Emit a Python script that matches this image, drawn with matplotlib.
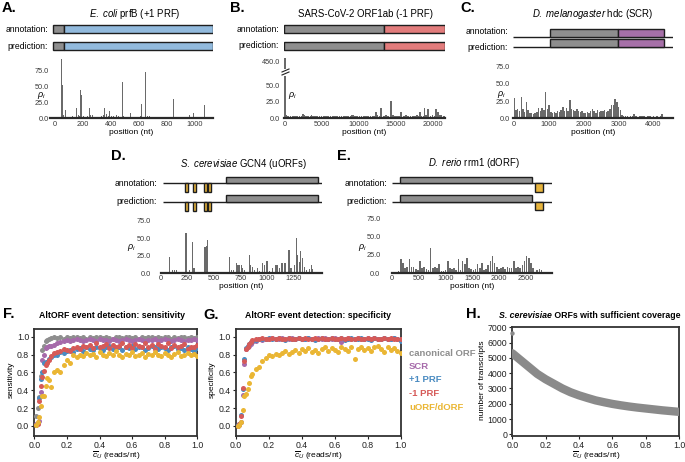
import numpy as np
import matplotlib
matplotlib.use('Agg')
import matplotlib.pyplot as plt
from matplotlib.patches import Rectangle

plt.rcParams['font.family'] = ['Liberation Sans', 'DejaVu Sans']
plt.rcParams['mathtext.fontset'] = 'custom'
plt.rcParams['mathtext.rm'] = 'Liberation Sans'
plt.rcParams['mathtext.it'] = 'Liberation Sans:italic'
plt.rcParams['mathtext.bf'] = 'Liberation Sans:bold'

# ---------------- data ----------------
# A: E. coli prfB coverage (position nt, rho)
a_profile = [(30,1),(45,3),(49,94),(56,53),(62,5),(73,13),(90,2),(110,1),(125,3),(140,2),
             (150,4),(155,17),(165,5),(175,3),(183,44),(190,37),(200,3),(215,2),(230,4),(245,17),
             (255,6),(270,5),(290,1),(310,1),(333,4),(345,5),(357,16),(368,7),(380,4),(391,11),
             (405,3),(415,4),(428,2),(439,6),(455,3),(468,2),(479,58),(490,3),(510,1),(537,8),
             (560,1),(580,2),(600,2),(610,3),(620,23),(635,2),(650,74),(662,4),(675,4),(700,1),
             (720,2),(745,2),(770,2),(790,1),(810,1),(830,2),(848,31),(870,1),(900,1),(930,2),
             (950,1),(960,6),(975,2),(990,8),(1010,1),(1030,2),(1050,1),(1068,21),(1085,1)]
a_orfs = [(-12, 62, 'canonical'), (62, 1127, '+1 PRF')]

# B: SARS-CoV-2 ORF1ab
b_peaks = [(0,455),(2400,7),(3600,5),(9000,5),(12250,9),(12930,15),(14280,26),(15630,9),
           (18240,10),(18830,15),(19370,14),(20360,14),(20720,9),(21040,5)]
b_base = [5,4,3,3,4,3,3,4,5,4,3,3,
          4,3,4,3,3,4,3,3,4,3,3,4,
          3,3,3,4,3,4,5,3,3,4,3,3,
          3,4,3,3,4,5,4,3,4,5,3,4,
          5,4,3,4,3,4,5,4,3,4,4,5,
          4,3,4,5,4,3,5,4,4,5,4,3]
b_orfs = [(-95, 13400, 'canonical'), (13400, 21600, '-1 PRF')]

# C: D. melanogaster hdc (50-nt bins)
c_bins = [29,12,14,10,31,14,9,23,12,8,
          7,6,8,9,15,10,15,12,38,14,
          20,9,8,9,8,10,9,12,17,11,
          15,10,26,14,12,10,13,11,9,10,
          8,7,9,8,10,14,11,8,12,9,
          11,10,12,9,11,13,19,20,28,24,
          17,12,5,3,4,3,2,3,4,6,
          3,2,3,4,3,3,2,3,3,2,
          3,2,3,2,4,6,2,1,0]
c_orfs = [(1025, 2970, 'canonical'), (2970, 4310, 'SCR')]

# D: S. cerevisiae GCN4
d_profile = [(83,23),(115,5),(130,5),(150,5),(175,2),(200,2),(240,57),(270,5),(302,45),(315,7),
             (350,2),(390,2),(418,38),(428,39),(443,48),(470,2),(530,2),(565,2),(646,23),(665,5),
             (685,5),(712,14),(727,11),(742,11),(758,11),(773,7),(790,4),(834,26),(846,12),(865,8),
             (885,4),(910,7),(930,3),(959,14),(975,11),(1000,17),(1025,3),(1050,7),(1085,11),(1100,11),
             (1115,7),(1140,14),(1168,14),(1207,33),(1225,7),(1255,11),(1278,51),(1287,26),(1302,16),
             (1318,31),(1333,22),(1349,9),(1370,4),(1400,6),(1415,11),(1430,6),(1460,1)]
d_orfs = [(615, 1482, 'canonical'), (230, 256, 'uORF/dORF'), (308, 333, 'uORF/dORF'),
          (411, 433, 'uORF/dORF'), (449, 475, 'uORF/dORF')]

# E: D. rerio rrm1 (40-nt bins)
e_bins = [2,1,1,3,20,14,7,9,20,9,
          8,6,4,17,7,8,5,4,34,7,
          8,7,12,3,3,4,17,7,6,7,
          4,20,4,16,12,21,7,5,4,6,
          12,7,14,4,5,11,16,24,14,9,
          6,7,8,6,8,7,7,17,7,8,
          7,11,16,23,21,14,7,2,4,6,
          4,1,1]
e_orfs = [(150, 2630, 'canonical'), (2680, 2835, 'uORF/dORF')]

# F / G: detection vs coverage threshold (values in %)
fg_x = np.r_[np.arange(1, 11) / 100, np.arange(12, 101, 2) / 100]
f_canonical = [11,20,32,56,85,90,95,96,98,99] + \
    [100,99,100,98,100,99,100,100,99,100,98,100,99,100,100,
     99,100,99,98,100,100,99,100,100,99,100,98,100,99,100,
     100,99,100,99,100,100,98,100,99,100,100,99,100,99,100]
f_scr = [2,3,5,38,74,80,87,88,90,90] + \
    [91,93,94,95,96,95,96,97,96,95,96,97,96,95,97,
     96,96,95,97,96,95,96,97,96,95,96,97,96,95,96,
     96,97,95,96,97,96,95,96,97,96,95,96,96,97,96]
f_prf1 = [1,3,31,53,60,70,72,72,75,77] + \
    [79,80,83,82,84,85,83,86,87,84,88,86,85,89,87,
     85,88,90,86,87,89,85,88,87,90,86,88,89,85,87,
     90,88,86,89,87,85,88,90,86,87,85,89,86,84,87]
f_prfm1 = [1,2,28,45,55,62,68,70,74,78] + \
    [82,83,84,86,85,84,87,88,86,90,89,91,87,93,88,
     90,92,87,91,89,90,93,88,91,87,92,90,89,93,88,
     91,86,92,90,89,93,87,91,88,90,92,86,89,88,91]
f_uorf = [1,4,10,22,34,34,45,54,52,44] + \
    [61,63,60,68,74,70,79,77,80,78,82,79,81,77,83,
     80,78,82,79,84,80,77,81,79,83,78,80,82,77,81,
     79,83,80,78,82,79,77,81,83,78,80,82,79,81,78]

g_scr = [1,1,4,35,69,86,88,90,92,94] + \
    [95,97,96,98,97,99,98,97,99,98,97,99,98,99,97,
     98,99,98,97,99,98,99,97,98,99,98,94,98,99,97,
     98,99,98,97,99,98,99,97,98,99,98,97,99,98,98]
g_prf1 = [1,2,12,41,75,87,90,92,94,95] + \
    [96,97,98,97,99,98,97,99,98,96,99,98,97,99,98,
     97,99,98,96,98,99,97,98,99,97,98,99,96,98,99,
     97,98,99,97,98,96,99,98,97,99,98,97,99,98,95]
g_prfm1 = [0,2,11,43,73,86,89,92,94,96] + \
    [97,98,99,98,97,99,98,99,97,98,99,98,97,99,98,
     99,98,97,99,98,99,97,98,99,98,97,99,98,99,97,
     98,99,98,97,99,98,99,98,97,99,98,99,98,97,98]
g_uorf = [0,1,4,18,33,36,41,48,56,58] + \
    [64,66,73,76,80,78,81,80,82,84,81,83,85,82,86,
     84,87,83,85,82,86,88,84,87,85,83,89,86,84,88,
     75,86,89,85,87,84,88,90,86,83,88,85,87,84,82]

# H: number of transcripts with sufficient coverage
h_x = np.arange(0, 21) / 20
h_y = [5300,4850,4400,3950,3600,3300,3000,2750,2550,2380,2220,
       2100,1990,1900,1820,1750,1690,1630,1570,1520,1470]
h_out_x = [0.0]
h_out_y = [6600]

legend_labels = ['canonical ORF', 'SCR', '+1 PRF', '-1 PRF', 'uORF/dORF']

# ---------------- style ----------------
COL = {'canonical': '#8e8e8e', 'SCR': '#a66aaa', '+1 PRF': '#4a8bc1',
       '-1 PRF': '#d65a58', 'uORF/dORF': '#eab634'}
BOXCOL = {'canonical': '#8e8e8e', 'SCR': '#a670a8', '+1 PRF': '#92badd',
          '-1 PRF': '#e27c7c', 'uORF/dORF': '#e7b43c'}
BAR = '#6a6a6a'
EDGE = '#1e1e1e'
TITLE_FS = 6.9
LAB_FS = 6.2

W, H = 685, 462
fig = plt.figure(figsize=(W / 100, H / 100), dpi=100)


def px_axes(x0, y0, x1, y1):
    return fig.add_axes([x0 / W, 1 - y1 / H, (x1 - x0) / W, (y1 - y0) / H])


def ftext(x, y, s, **kw):
    kw.setdefault('va', 'center')
    return fig.text(x / W, 1 - y / H, s, **kw)


def diagram(rect, xlim, orfs, rows, line_span=None):
    x0, y0, x1, y1 = rect
    ax = px_axes(*rect)
    ax.set_xlim(*xlim)
    ax.set_ylim(y1, y0)
    ax.axis('off')
    for yline, up, down in rows:
        if line_span is not None:
            ax.plot(line_span, [yline, yline], color=EDGE, lw=1.0,
                    solid_capstyle='butt', zorder=1)
        for s, e, kind in orfs:
            yt, yb = down if kind == 'uORF/dORF' and line_span is not None else up
            ax.add_patch(Rectangle((s, yt), e - s, yb - yt, fc=BOXCOL[kind],
                                   ec=EDGE, lw=1.0, zorder=2))
    return ax


def coverage(rect, pos, val, width, xlim, ylim, xticks, yticks, ypad, xpad=2.0):
    ax = px_axes(*rect)
    ax.bar(pos, val, width=width, color=BAR, linewidth=0)
    ax.set_xlim(*xlim)
    ax.set_ylim(*ylim)
    for s in ['left', 'right', 'top']:
        ax.spines[s].set_visible(False)
    ax.spines['bottom'].set_color('#2a2a2a')
    ax.spines['bottom'].set_linewidth(1.6)
    ax.set_xticks(xticks)
    ax.set_yticks(yticks)
    ax.set_yticklabels([f'{v:.1f}' for v in yticks])
    ax.tick_params(axis='both', length=0, labelsize=5.3, colors='#3a3a3a')
    ax.tick_params(axis='y', pad=ypad)
    ax.tick_params(axis='x', pad=xpad)
    return ax


RHO = r'$\rho_i$'
RHO_FS = 6.5

# ---------------- Panel A ----------------
a_xlim = (-36, 1129)
diagram((50, 20, 213, 55), a_xlim, a_orfs, [(None, (24.5, 32.5), None), (None, (42, 50), None)])
a_pos, a_val = zip(*a_profile)
coverage((50, 57, 213, 118.3), a_pos, a_val, 7, a_xlim, (0, 97),
         [0, 200, 400, 600, 800, 1000], [0, 25, 50, 75], ypad=1)
ftext(2, 8, 'A.', fontsize=10.5, fontweight='bold', ha='left')
ftext(135, 14, r'$\mathit{E.\ coli}$ prfB (+1 PRF)', fontsize=TITLE_FS, ha='center')
ftext(48, 29, 'annotation:', fontsize=LAB_FS, ha='right')
ftext(48, 46.5, 'prediction:', fontsize=LAB_FS, ha='right')
ftext(41, 95.5, RHO, fontsize=RHO_FS, ha='center')
ftext(131, 133, 'position (nt)', fontsize=6, ha='center')

# ---------------- Panel B ----------------
b_xlim = (-135, 21620)
diagram((284, 20, 445, 55), b_xlim, b_orfs, [(None, (25, 33), None), (None, (42, 50), None)])
b_pos = [p for p, v in b_peaks] + list(150 + 300 * np.arange(len(b_base)))
b_val = [v for p, v in b_peaks] + list(b_base)
axb = coverage((284, 76, 445, 118.3), b_pos, b_val, 230, b_xlim, (0, 63.6),
               [0, 5000, 10000, 15000, 20000], [0, 25, 50], ypad=3)
axbt = px_axes(284, 57, 445, 69)
axbt.bar(b_pos, b_val, width=230, color=BAR, linewidth=0)
axbt.set_xlim(*b_xlim)
axbt.set_ylim(440, 456)
for s in ['left', 'right', 'top', 'bottom']:
    axbt.spines[s].set_visible(False)
axbt.set_xticks([])
axbt.set_yticks([450])
axbt.set_yticklabels(['450.0'])
axbt.tick_params(axis='y', length=0, labelsize=5.3, colors='#3a3a3a', pad=3)
for yy in (70.5, 73.5):
    fig.add_artist(plt.Line2D([282 / W, 289 / W], [1 - (yy + 1.5) / H, 1 - (yy - 1.5) / H],
                              color='#222222', lw=0.8))
ftext(230, 8, 'B.', fontsize=10.5, fontweight='bold', ha='left')
ftext(365, 14, 'SARS-CoV-2 ORF1ab (-1 PRF)', fontsize=TITLE_FS, ha='center')
ftext(279, 29, 'annotation:', fontsize=LAB_FS, ha='right')
ftext(279, 46, 'prediction:', fontsize=LAB_FS, ha='right')
ftext(292, 95.5, RHO, fontsize=RHO_FS, ha='center')
ftext(364, 133, 'position (nt)', fontsize=6, ha='center')

# ---------------- Panel C ----------------
c_xlim = (-37, 4567)
diagram((513, 20, 673, 55), c_xlim, c_orfs,
        [(37, (28.5, 37), None), (47, (38.5, 47), None)], line_span=c_xlim)
c_pos = 50 * np.arange(len(c_bins))
coverage((513, 57, 673, 118.3), c_pos, c_bins, 42, c_xlim, (0, 89),
         [0, 1000, 2000, 3000, 4000], [0, 25, 50, 75], ypad=2)
ftext(460, 8, 'C.', fontsize=10.5, fontweight='bold', ha='left')
ftext(593, 14, r'$\mathit{D.\ melanogaster}$ hdc (SCR)', fontsize=TITLE_FS, ha='center')
ftext(508, 32, 'annotation:', fontsize=LAB_FS, ha='right')
ftext(508, 47, 'prediction:', fontsize=LAB_FS, ha='right')
ftext(501, 94, RHO, fontsize=RHO_FS, ha='center')
ftext(593, 133, 'position (nt)', fontsize=6, ha='center')

# ---------------- Panel D ----------------
d_xlim = (0, 1516)
diagram((160.5, 172, 322, 214), d_xlim, d_orfs,
        [(183.3, (176.5, 183.3), (183.3, 192)), (202.3, (195, 202.3), (202.3, 210.5))],
        line_span=(26, 1516))
d_pos, d_val = zip(*d_profile)
coverage((160.5, 216, 322, 273), d_pos, d_val, 11, d_xlim, (0, 82),
         [0, 250, 500, 750, 1000, 1250], [0, 25, 50, 75], ypad=7, xpad=1.5)
ftext(111, 156, 'D.', fontsize=10.5, fontweight='bold', ha='left')
ftext(244, 164, r'$\mathit{S.\ cerevisiae}$ GCN4 (uORFs)', fontsize=TITLE_FS, ha='center')
ftext(157, 183, 'annotation:', fontsize=LAB_FS, ha='right')
ftext(157, 202, 'prediction:', fontsize=LAB_FS, ha='right')
ftext(131, 247, RHO, fontsize=RHO_FS, ha='center')
ftext(241, 286, 'position (nt)', fontsize=6, ha='center')

# ---------------- Panel E ----------------
e_xlim = (0, 3000)
diagram((392.3, 172, 552.2, 214), e_xlim, e_orfs,
        [(183.3, (176.5, 183.3), (183.3, 191.7)), (201.7, (195, 201.7), (201.7, 210))],
        line_span=(0, 2996))
e_pos = 40 * np.arange(len(e_bins))
coverage((392.3, 216, 552.2, 273), e_pos, e_bins, 30, e_xlim, (0, 79),
         [0, 500, 1000, 1500, 2000, 2500], [0, 25, 50, 75], ypad=8.5, xpad=1.5)
ftext(337, 156, 'E.', fontsize=10.5, fontweight='bold', ha='left')
ftext(474, 163, r'$\mathit{D.\ rerio}$ rrm1 (dORF)', fontsize=TITLE_FS, ha='center')
ftext(387, 183, 'annotation:', fontsize=LAB_FS, ha='right')
ftext(387, 202, 'prediction:', fontsize=LAB_FS, ha='right')
ftext(362, 247, RHO, fontsize=RHO_FS, ha='center')
ftext(472, 286, 'position (nt)', fontsize=6, ha='center')


# ---------------- Panels F, G ----------------
def frame(ax):
    for s in ax.spines.values():
        s.set_color('#333333')
        s.set_linewidth(1.3)
    ax.tick_params(axis='both', length=2.5, width=0.8, labelsize=6.3, colors='#222222', pad=1.2)


XLAB = r'$\overline{c}_{U}$ (reads/nt)'

axf = px_axes(34.3, 329, 197.3, 435.7)
for vals, kind in [(f_canonical, 'canonical'), (f_scr, 'SCR'), (f_prf1, '+1 PRF'),
                   (f_prfm1, '-1 PRF'), (f_uorf, 'uORF/dORF')]:
    axf.scatter(fg_x, np.array(vals) / 100, s=13, color=COL[kind], linewidths=0, zorder=3)
axf.set_xlim(0, 1)
axf.set_ylim(-0.11, 1.087)
axf.set_xticks([0, 0.2, 0.4, 0.6, 0.8, 1.0])
axf.set_yticks([0, 0.2, 0.4, 0.6, 0.8, 1.0])
frame(axf)
ftext(3, 314, 'F.', fontsize=10.5, fontweight='bold', ha='left')
ftext(112, 316, 'AltORF event detection: sensitivity', fontsize=6.3, fontweight='bold', ha='center')
ftext(11, 380, 'sensitivity', fontsize=6, rotation=90, ha='center')
ftext(116, 456, XLAB, fontsize=6, ha='center')

axg = px_axes(236, 329, 400.7, 435.7)
for vals, kind in [(g_scr, 'SCR'), (g_prf1, '+1 PRF'), (g_prfm1, '-1 PRF'), (g_uorf, 'uORF/dORF')]:
    axg.scatter(fg_x, np.array(vals) / 100, s=13, color=COL[kind], linewidths=0, zorder=3)
axg.set_xlim(0, 1)
axg.set_ylim(-0.11, 1.087)
axg.set_xticks([0, 0.2, 0.4, 0.6, 0.8, 1.0])
axg.set_yticks([0, 0.2, 0.4, 0.6, 0.8, 1.0])
frame(axg)
ftext(203, 315, 'G.', fontsize=10.5, fontweight='bold', ha='left')
ftext(318, 315, 'AltORF event detection: specificity', fontsize=6.3, fontweight='bold', ha='center')
ftext(212, 380, 'specificity', fontsize=6, rotation=90, ha='center')
ftext(318, 456, XLAB, fontsize=6, ha='center')

for i, (lab, kind) in enumerate(zip(legend_labels, ['canonical', 'SCR', '+1 PRF', '-1 PRF', 'uORF/dORF'])):
    ftext(409, 353 + i * 13.5, lab, fontsize=6.8, fontweight='bold', color=COL[kind], ha='left')

# ---------------- Panel H ----------------
axh = px_axes(512.3, 327.3, 679, 435.7)
axh.plot(h_x, h_y, color='#8a8a8a', lw=6, solid_capstyle='round', zorder=3)
axh.scatter(h_out_x, h_out_y, s=10, color='#8a8a8a', linewidths=0, zorder=3, clip_on=False)
axh.set_xlim(0, 1)
axh.set_ylim(-90, 7000)
axh.set_xticks([0, 0.2, 0.4, 0.6, 0.8, 1.0])
axh.set_yticks(range(0, 7001, 1000))
frame(axh)
ftext(466, 314, 'H.', fontsize=10.5, fontweight='bold', ha='left')
t1 = ftext(499, 315, 'S. cerevisiae', fontsize=6.3, fontweight='bold', fontstyle='italic', ha='left')
axh.annotate(' ORFs with sufficient coverage', xy=(1, 0), xycoords=t1, va='bottom', ha='left',
             fontsize=6.3, fontweight='bold', annotation_clip=False)
ftext(482, 380, 'number of transcripts', fontsize=6, rotation=90, ha='center')
ftext(596, 456, XLAB, fontsize=6, ha='center')

fig.savefig('out.png', dpi=100)
